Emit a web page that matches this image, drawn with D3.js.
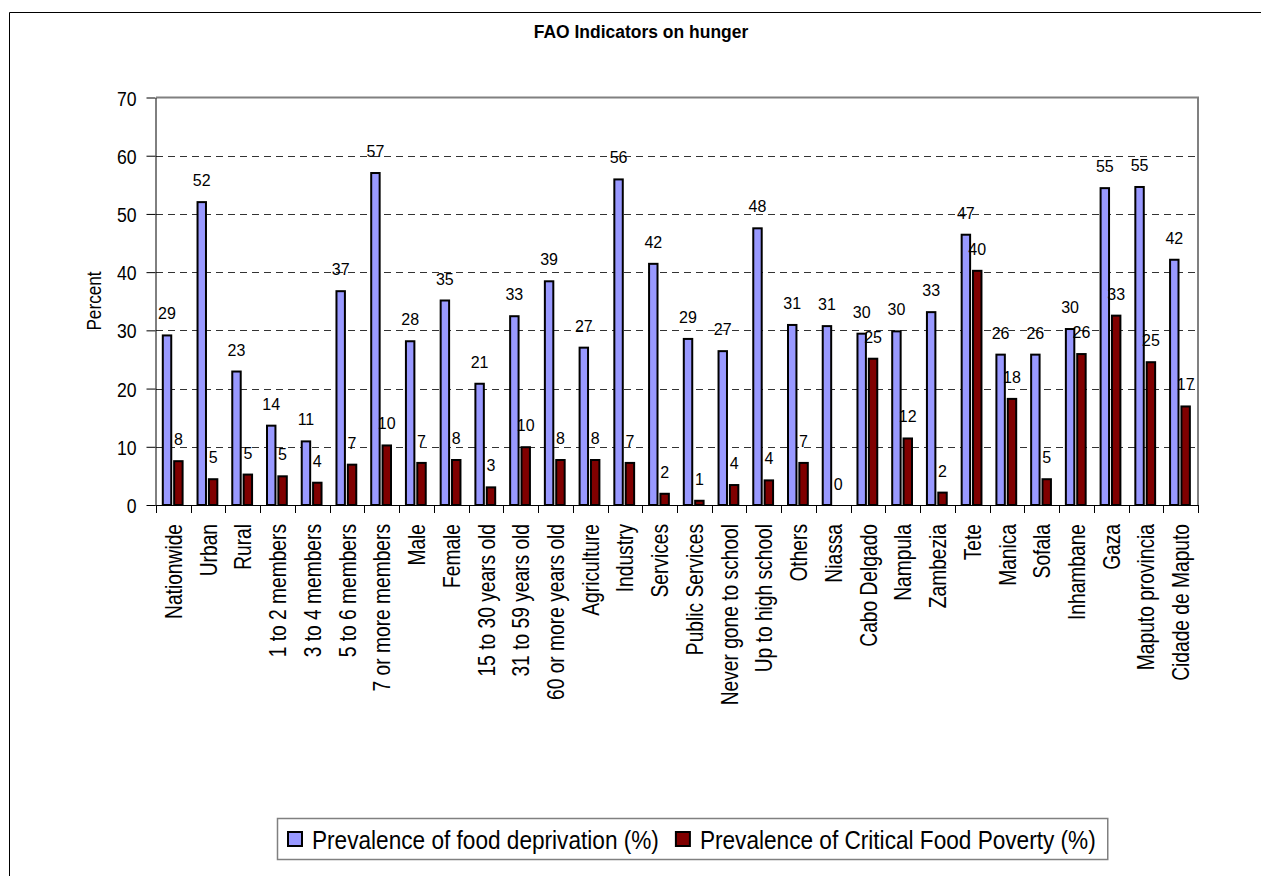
<!DOCTYPE html>
<html>
<head>
<meta charset="utf-8">
<script src="https://cdn.jsdelivr.net/npm/d3@7"></script>
<style>
  html, body { margin: 0; padding: 0; background: #fff; }
  svg { display: block; }
  text { font-family: "Liberation Sans", Arial, Helvetica, sans-serif; fill: #000; }
</style>
</head>
<body>
<svg id="chart" width="1261" height="876"></svg>
<script>
// Survey groups shown along the horizontal axis
const categories = [
  "Nationwide", "Urban", "Rural",
  "1 to 2 members", "3 to 4 members", "5 to 6 members", "7 or more members",
  "Male", "Female",
  "15 to 30 years old", "31 to 59 years old", "60 or more years old",
  "Agriculture", "Industry", "Services", "Public Services",
  "Never gone to school", "Up to high school", "Others",
  "Niassa", "Cabo Delgado", "Nampula", "Zambezia", "Tete", "Manica",
  "Sofala", "Inhambane", "Gaza", "Maputo provincia", "Cidade de Maputo"
];

// Prevalence of food deprivation (%)
const deprivation = [
  29.3, 52.2, 23.1,
  13.8, 11.1, 36.9, 57.2,
  28.3, 35.3,
  21.0, 32.6, 38.6,
  27.2, 56.1, 41.6, 28.7,
  26.6, 47.7, 31.1,
  30.9, 29.6, 30.0, 33.3, 46.6, 26.0,
  26.0, 30.4, 54.6, 54.8, 42.3
];

// Prevalence of Critical Food Poverty (%)
const criticalPoverty = [
  7.7, 4.6, 5.4,
  5.1, 4.0, 7.1, 10.4,
  7.4, 7.9,
  3.2, 10.1, 7.9,
  7.9, 7.4, 2.1, 0.9,
  3.6, 4.4, 7.4,
  0, 25.3, 11.6, 2.3, 40.4, 18.4,
  4.6, 26.1, 32.7, 24.7, 17.1
];

const seriesNames = [
  "Prevalence of food deprivation (%)",
  "Prevalence of Critical Food Poverty (%)"
];
const seriesColors = ["#9999FF", "#800000"];
const yTicks = [0, 10, 20, 30, 40, 50, 60, 70];

const chartTitle = "FAO Indicators on hunger";
const yTitle = "Percent";

const series = [deprivation, criticalPoverty];
const rows = categories.map((c, i) => ({ cat: c, values: series.map(s => s[i]) }));

const svg = d3.select("#chart");

// outer chart frame (top and left edges)
svg.append("path")
  .attr("d", "M1261,12.5H9.5V876")
  .attr("fill", "none").attr("stroke", "#000").attr("stroke-width", 1);

// scales
const plot = { left: 156, right: 1198, top: 97.5, bottom: 505 };
const x0 = d3.scaleBand().domain(categories).range([plot.left, plot.right]).padding(0);
const x1 = d3.scaleBand().domain([0, 1]).range([5.8, 27.6]).paddingInner(0.08);
const y = d3.scaleLinear().domain([0, 70]).range([plot.bottom, plot.top]);

// helper for the narrow lettering used in the chart texts
function narrowText(g, x, yy, rot, sx, size, str, anchor, weight, dy) {
  return g.append("text")
    .attr("transform", `translate(${x},${yy}) rotate(${rot}) scale(${sx},1)`)
    .attr("text-anchor", anchor)
    .attr("font-size", size)
    .attr("font-weight", weight || "normal")
    .attr("dy", dy || 0)
    .text(str);
}

// title
narrowText(svg, 641, 38, 0, 0.92, 19, chartTitle, "middle", "bold");

// dashed gridlines
svg.append("g").selectAll("line")
  .data(yTicks.filter(t => t > 0 && t < 70))
  .join("line")
  .attr("x1", plot.left).attr("x2", plot.right)
  .attr("y1", d => Math.round(y(d)) + 0.5).attr("y2", d => Math.round(y(d)) + 0.5)
  .attr("stroke", "#333").attr("stroke-width", 1)
  .attr("stroke-dasharray", "7,5");

// plot area border on top and right
svg.append("path")
  .attr("d", `M${plot.left},${plot.top}H${plot.right}V${plot.bottom}`)
  .attr("fill", "none").attr("stroke", "#808080").attr("stroke-width", 2);

// y axis
const yAxis = svg.append("g")
  .attr("transform", `translate(${plot.left - 0.5},0)`)
  .call(d3.axisLeft(y).tickValues(yTicks).tickSize(9).tickSizeOuter(0).tickFormat(d3.format("d")));
yAxis.select(".domain").attr("stroke", "#000");
yAxis.selectAll(".tick line").attr("stroke", "#000");
yAxis.selectAll(".tick text")
  .attr("x", null).attr("dy", null)
  .attr("font-family", null)
  .attr("font-size", 21)
  .attr("fill", "#000")
  .attr("transform", "translate(-19,7.5) scale(0.84,1)");

// y axis title
narrowText(svg, 101, 301, -90, 0.86, 20, yTitle, "middle");

// x axis line and category boundary ticks
svg.append("line")
  .attr("x1", plot.left - 0.5).attr("x2", plot.right)
  .attr("y1", plot.bottom + 0.5).attr("y2", plot.bottom + 0.5)
  .attr("stroke", "#000");
const bounds = categories.map(c => x0(c)).concat([plot.right]);
svg.append("g").selectAll("line")
  .data(bounds)
  .join("line")
  .attr("x1", d => Math.round(d) + 0.5).attr("x2", d => Math.round(d) + 0.5)
  .attr("y1", plot.bottom).attr("y2", plot.bottom + 8)
  .attr("stroke", "#000");

// x axis category labels
const xAxis = svg.append("g")
  .attr("transform", `translate(0,${plot.bottom})`)
  .call(d3.axisBottom(x0).tickSize(0).tickSizeOuter(0));
xAxis.select(".domain").remove();
xAxis.selectAll(".tick text")
  .attr("y", null).attr("dy", "0.358em")
  .attr("font-family", null)
  .attr("font-size", 24)
  .attr("fill", "#000")
  .attr("text-anchor", "end")
  .attr("transform", "translate(0,19) rotate(-90) scale(0.8,1)");

// bars
const groups = svg.append("g").selectAll("g")
  .data(rows)
  .join("g")
  .attr("transform", d => `translate(${x0(d.cat)},0)`);

groups.selectAll("rect")
  .data(d => d.values.map((v, k) => ({ v, k })))
  .join("rect")
  .attr("x", d => x1(d.k) + 1)
  .attr("width", x1.bandwidth() - 2)
  .attr("y", d => Math.min(y(d.v) + 1, y(0)))
  .attr("height", d => Math.max(0, y(0) - y(d.v) - 1))
  .attr("fill", d => seriesColors[d.k])
  .attr("stroke", "#000")
  .attr("stroke-width", 2);

// value labels
groups.selectAll("text")
  .data(d => d.values.map((v, k) => ({ v, k })))
  .join("text")
  .attr("x", d => x1(d.k) + x1.bandwidth() / 2)
  .attr("y", d => y(d.v) - 15)
  .attr("text-anchor", "middle")
  .attr("font-size", 16)
  .text(d => Math.round(d.v));

// legend
const legend = svg.append("g");
const legendBox = legend.append("rect")
  .attr("x", 277.5).attr("y", 818.5).attr("height", 41)
  .attr("fill", "#fff").attr("stroke", "#808080").attr("stroke-width", 1.5);
let lx = 288;
seriesNames.forEach((name, k) => {
  legend.append("rect")
    .attr("x", lx).attr("y", 832).attr("width", 14).attr("height", 14)
    .attr("fill", seriesColors[k]).attr("stroke", "#000").attr("stroke-width", 2);
  const t = narrowText(legend, lx + 24, 849, 0, 0.87, 26, name, "start");
  const w = t.node().getComputedTextLength() * 0.87;
  lx = lx + 24 + w + 17;
});
legendBox.attr("width", lx - 17 + 12 - 277.5);
</script>
</body>
</html>
